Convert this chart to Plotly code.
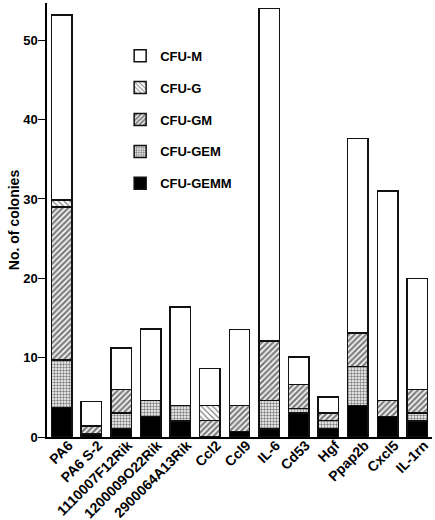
import plotly.graph_objects as go

categories = ["PA6", "PA6 S-2", "1110007F12Rik", "1200009O22Rik", "2900064A13Rik",
              "Ccl2", "Ccl9", "IL-6", "Cd53", "Hgf", "Ppap2b", "Cxcl5", "IL-1rn"]

cfu_gemm = [3.7, 0.4, 1.1, 2.6, 2.0, 0.0, 0.7, 1.0, 3.05, 1.1, 4.0, 2.6, 2.0]
cfu_gem  = [6.0, 0.0, 1.9, 2.0, 2.0, 0.0, 0.0, 3.6, 0.55, 0.95, 4.9, 0.0, 1.0]
cfu_gm   = [19.3, 1.0, 3.0, 0.0, 0.0, 2.1, 3.3, 7.5, 3.0, 0.95, 4.2, 2.0, 3.0]
cfu_g    = [0.9, 0.0, 0.0, 0.0, 0.0, 1.9, 0.0, 0.0, 0.0, 0.0, 0.0, 0.0, 0.0]
cfu_m    = [23.3, 3.05, 5.2, 9.0, 12.4, 4.65, 9.55, 41.9, 3.5, 2.07, 24.5, 26.4, 14.0]

series = [
    ("CFU-GEMM", cfu_gemm, dict(color="black")),
    ("CFU-GEM", cfu_gem, dict(color="white", pattern=dict(shape=".", fgcolor="black", bgcolor="white", size=3, solidity=0.5))),
    ("CFU-GM", cfu_gm, dict(color="white", pattern=dict(shape="/", fgcolor="black", bgcolor="white", size=4, solidity=0.62))),
    ("CFU-G", cfu_g, dict(color="white", pattern=dict(shape="\\", fgcolor="black", bgcolor="white", size=4, solidity=0.3))),
    ("CFU-M", cfu_m, dict(color="white")),
]

fig = go.Figure()
for i, (name, vals, mk) in enumerate(series):
    mk = dict(mk)
    mk["line"] = dict(color="#111", width=1.5)
    fig.add_trace(go.Bar(x=categories, y=vals, name=name, marker=mk,
                         legendgroup=name, legendrank=len(series) - i, width=0.69))

fig.update_layout(
    barmode="stack",
    width=435, height=520,
    margin=dict(l=47, r=3, t=3, b=83),
    paper_bgcolor="white", plot_bgcolor="white",
    font=dict(family="Liberation Sans, Arial, sans-serif", color="black"),
    showlegend=True,
    legend=dict(traceorder="grouped", x=0.19, y=0.913, xanchor="left", yanchor="top",
                bgcolor="rgba(0,0,0,0)", tracegroupgap=12,
                font=dict(size=13, family="Liberation Sans, Arial, sans-serif", weight="bold")),
)
fig.update_xaxes(range=[-0.5, 12.5], showline=True, linecolor="black", linewidth=1.5,
                 ticks="", tickangle=-45, showgrid=False, automargin=False,
                 ticklabelstandoff=-7, ticklabelshift=7,
                 tickfont=dict(size=14, weight="bold"))
fig.update_yaxes(range=[0, 54.7], showline=True, linecolor="black", linewidth=1.5,
                 ticks="outside", ticklen=7, tickwidth=1.2, tickcolor="black",
                 tickvals=[0, 10, 20, 30, 40, 50], showgrid=False, zeroline=False,
                 automargin=False, ticklabelstandoff=-2,
                 tickfont=dict(size=13, weight="bold"),
                 title=dict(text="No. of colonies", font=dict(size=14, weight="bold"), standoff=0))

fig.write_html("out.html", config={"displayModeBar": False},
               post_script="document.body.style.margin='0';")
